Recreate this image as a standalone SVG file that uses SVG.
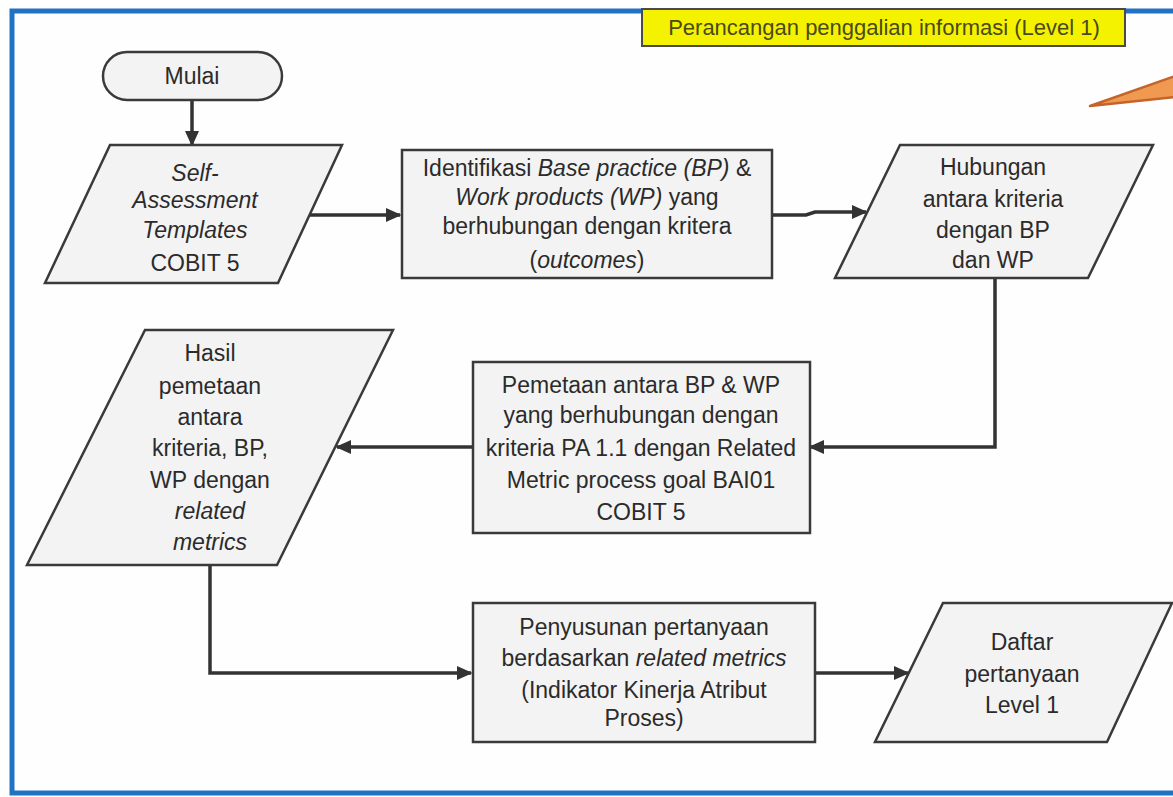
<svg xmlns="http://www.w3.org/2000/svg" width="1173" height="797" viewBox="0 0 1173 797">
<style>
text{font-family:"Liberation Sans",Arial,sans-serif;font-size:23px;fill:#2b2b2b;text-anchor:middle}
.i{font-style:italic}
.shape{fill:#f3f3f3;stroke:#3a3a3a;stroke-width:2.5}
.conn{fill:none;stroke:#333;stroke-width:3.5}
</style>
<defs>
<marker id="a" viewBox="0 0 10 10" refX="9" refY="5" markerWidth="16" markerHeight="16" orient="auto" markerUnits="userSpaceOnUse">
<path d="M0,0.5 L10,5 L0,9.5 z" fill="#333"/>
</marker>
</defs>
<rect x="0" y="0" width="1173" height="797" fill="#fff"/>
<rect id="frame" x="12" y="11" width="1170" height="782" fill="#fefefe" stroke="#2272c4" stroke-width="5"/>
<g id="title">
<rect x="642" y="9" width="483" height="37" fill="#f5f200" stroke="#4a4a4a" stroke-width="2"/>
<text x="884" y="35" style="font-size:22px;fill:#4a4a1a">Perancangan penggalian informasi (Level 1)</text>
</g>
<g id="pointer">
<path d="M1090,106 L1175,76 L1175,97 Z" fill="#ef9a50" stroke="#c4632a" stroke-width="2.5" stroke-linejoin="round"/>
</g>
<g id="connectors">
<line class="conn" x1="192" y1="100" x2="192" y2="145" marker-end="url(#a)"/>
<line class="conn" x1="310" y1="215" x2="400" y2="215" marker-end="url(#a)"/>
<path class="conn" d="M772,215 L806,215 L815,212 L866,212" marker-end="url(#a)"/>
<path class="conn" d="M995,278 L995,447 L810,447" marker-end="url(#a)"/>
<line class="conn" x1="473" y1="447" x2="337" y2="447" marker-end="url(#a)"/>
<path class="conn" d="M210,565 L210,673 L471,673" marker-end="url(#a)"/>
<line class="conn" x1="815" y1="673" x2="908" y2="673" marker-end="url(#a)"/>
</g>
<g id="mulai">
<rect class="shape" x="103" y="52" width="179" height="48" rx="24" ry="24"/>
<text x="192" y="84">Mulai</text>
</g>
<g id="self-assessment">
<polygon class="shape" points="110,145 342,145 278,283 45,283"/>
<text class="i" x="195" y="181">Self-</text>
<text class="i" x="195" y="208">Assessment</text>
<text class="i" x="195" y="238">Templates</text>
<text x="195" y="271">COBIT 5</text>
</g>
<g id="identifikasi">
<rect class="shape" x="402" y="150" width="370" height="128"/>
<text x="587" y="176">Identifikasi <tspan class="i">Base practice (BP)</tspan> &amp;</text>
<text x="587" y="205"><tspan class="i">Work products (WP)</tspan>  yang</text>
<text x="587" y="234">berhubungan dengan kritera</text>
<text x="587" y="268">(<tspan class="i">outcomes</tspan>)</text>
</g>
<g id="hubungan">
<polygon class="shape" points="900,145 1153,145 1088,278 835,278"/>
<text x="993" y="175">Hubungan</text>
<text x="993" y="207">antara kriteria</text>
<text x="993" y="238">dengan BP</text>
<text x="993" y="268">dan WP</text>
</g>
<g id="pemetaan">
<rect class="shape" x="473" y="362" width="337" height="171"/>
<text x="641" y="393">Pemetaan antara BP &amp; WP</text>
<text x="641" y="423">yang berhubungan dengan</text>
<text x="641" y="456">kriteria PA 1.1 dengan Related</text>
<text x="641" y="488">Metric process goal BAI01</text>
<text x="641" y="520">COBIT 5</text>
</g>
<g id="hasil">
<polygon class="shape" points="145,330 393,330 277,565 27,565"/>
<text x="210" y="361">Hasil</text>
<text x="210" y="394">pemetaan</text>
<text x="210" y="425">antara</text>
<text x="210" y="456">kriteria, BP,</text>
<text x="210" y="488">WP dengan</text>
<text class="i" x="210" y="519">related</text>
<text class="i" x="210" y="550">metrics</text>
</g>
<g id="penyusunan">
<rect class="shape" x="473" y="603" width="342" height="139"/>
<text x="644" y="635">Penyusunan pertanyaan</text>
<text x="644" y="666">berdasarkan <tspan class="i">related metrics</tspan></text>
<text x="644" y="698">(Indikator Kinerja Atribut</text>
<text x="644" y="726">Proses)</text>
</g>
<g id="daftar">
<polygon class="shape" points="943,603 1172,603 1107,742 875,742"/>
<text x="1022" y="650">Daftar</text>
<text x="1022" y="682">pertanyaan</text>
<text x="1022" y="713">Level 1</text>
</g>
</svg>
